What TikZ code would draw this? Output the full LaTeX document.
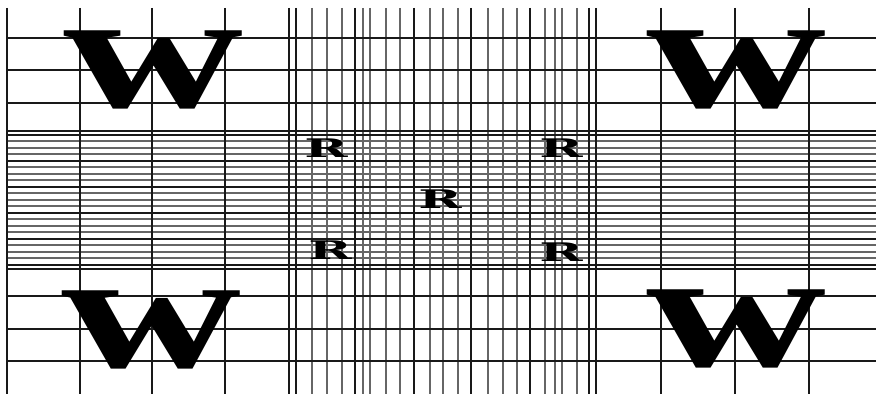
\documentclass[tikz,border=0pt]{standalone}
\usepackage{fontspec}
\usepackage{graphicx}
\newfontfamily\slabfont{DejaVu Serif}
\newfontfamily\timesfont{Liberation Serif}
\usetikzlibrary{positioning}
\tikzset{
    major/.style={line width=0.8mm, black!90},
    minor/.style={line width=0.55mm, black!60},
    glyph/.style={inner sep=0pt, outer sep=0pt}
}
\newcommand{\bigw}{\resizebox{54mm}{23mm}{\timesfont\bfseries w}}
\newcommand{\smallr}{\resizebox{13mm}{5.6mm}{\slabfont\bfseries R}}

\begin{document}
\begin{tikzpicture}[x=0.3mm, y=-0.3mm]
    \useasboundingbox (0,0) rectangle (876,394);
    % Thin rulings of the middle band
    \foreach \x in {312,327,342,363,370,386,400,430,443,458,488,503,517,545,555,562,577}
        \draw[minor] (\x,8) -- (\x,394);
    \foreach \y in {141,148,154,167,174,180,193,200,206,219,226,232,245,252,258}
        \draw[minor] (7,\y) -- (876,\y);
    % Main rulings
    \foreach \x in {7,80,152,225,289,296,355,414,471,530,589,596,661,735,809}
        \draw[major] (\x,8) -- (\x,394);
    \foreach \y in {38,70,103,131,135,161,187,213,239,265,269,296,329,361}
        \draw[major] (7,\y) -- (876,\y);
    % Corner squares
    \node[glyph] (wtl) at (154,70) {\bigw};
    \node[glyph] (wbl) at (152,330) {\bigw};
    \node[glyph] (wtr) at (737,70) {\bigw};
    \node[glyph] (wbr) at (737,329) {\bigw};
    % Centre squares
    \node[glyph] (rtl) at (326,148) {\smallr};
    \node[glyph] (rtr) at (561,148) {\smallr};
    \node[glyph] (rmid) at (440,199) {\smallr};
    \node[glyph] (rbl) at (330,250) {\smallr};
    \node[glyph] (rbr) at (561,252) {\smallr};
\end{tikzpicture}
\end{document}
